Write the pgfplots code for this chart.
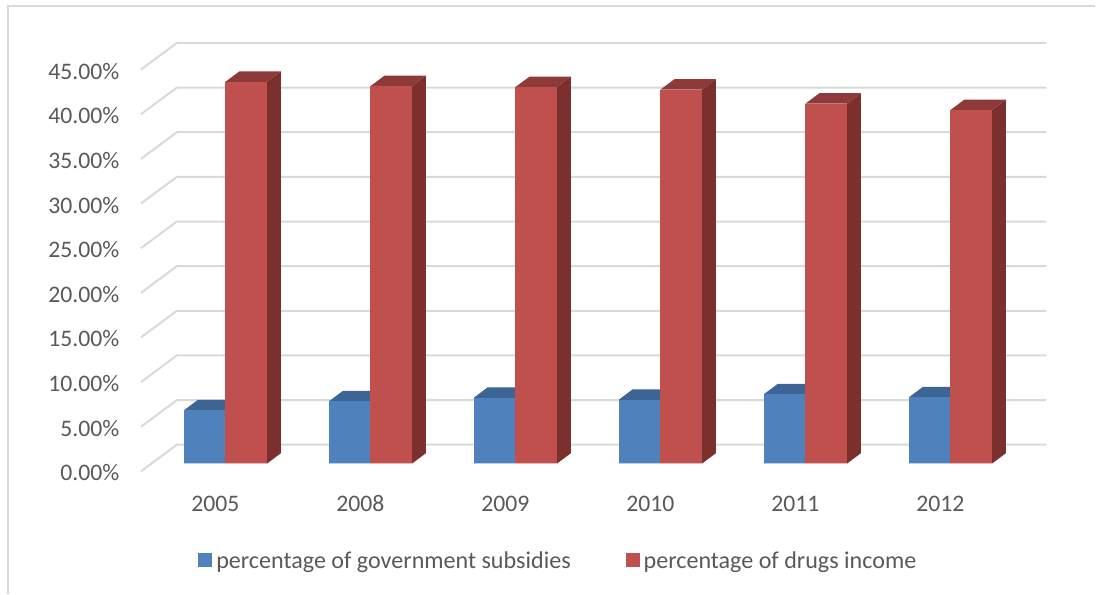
\documentclass[border=0pt]{standalone}
\usepackage{fontspec}
\setmainfont{Carlito}
\usepackage{pgfplots}
\pgfplotsset{compat=1.18}
\definecolor{gridc}{HTML}{D9D9D9}
\definecolor{txt}{HTML}{595959}
\definecolor{bluef}{HTML}{4F81BD}
\definecolor{bluet}{HTML}{3C6494}
\definecolor{bluel}{HTML}{B9CDE5}
\definecolor{redf}{HTML}{C0504D}
\definecolor{redt}{HTML}{8E3A38}
\definecolor{reds}{HTML}{7C302E}
\definecolor{redl}{HTML}{E6B9B8}

% Depth of the bars and of the floor, in axis units
\def\barbase{0.861}
\def\barw{0.2866}
\def\depx{0.0965}
\def\depy{1.175}

% #1 category, #2 value in percent, #3 side (-1 left, 0 right), #4 front, #5 top, #6 side, #7 base edge
\newcommand{\boxbar}[7]{%
  \pgfmathsetmacro{\xa}{#1+#3*\barw}%
  \pgfmathsetmacro{\xb}{\xa+\barw}%
  \pgfmathsetmacro{\xc}{\xa+\depx}%
  \pgfmathsetmacro{\xd}{\xb+\depx}%
  \pgfmathsetmacro{\ya}{\barbase}%
  \pgfmathsetmacro{\yb}{\barbase+#2}%
  \pgfmathsetmacro{\yc}{\yb+\depy}%
  \pgfmathsetmacro{\ye}{\ya+\depy}%
  \addplot[forget plot,fill=#6,draw=none] coordinates {(\xb,\ya) (\xd,\ye) (\xd,\yc) (\xb,\yb)} --cycle;
  \addplot[forget plot,fill=#5,draw=none] coordinates {(\xa,\yb) (\xb,\yb) (\xd,\yc) (\xc,\yc)} --cycle;
  \addplot[forget plot,fill=#4,draw=none] coordinates {(\xa,\ya) (\xb,\ya) (\xb,\yb) (\xa,\yb)} --cycle;
  \addplot[forget plot,draw=#7,line width=0.8pt] coordinates {(\xa,\ya) (\xb,\ya)};
}

\begin{document}
\begin{tikzpicture}[x=1pt,y=1pt]
\path (0,0) rectangle (1096,594);
\draw[gridc,line width=1.5pt] (1096,588) -- (8,588) -- (8,0);
\begin{axis}[
  at={(141pt,122.3pt)},anchor=south west,
  scale only axis,width=906pt,height=428.7pt,
  xmin=-0.582,xmax=5.662,ymin=0,ymax=47.987,
  clip=false,
  axis line style={draw=none},
  tick style={draw=none},
  xtick={0,1,2,3,4,5},
  xticklabels={2005,2008,2009,2010,2011,2012},
  xticklabel style={xshift=-10pt,yshift=-21pt,text height=16pt,text depth=0pt},
  ytick={0,5,10,15,20,25,30,35,40,45},
  yticklabel={\pgfmathprintnumber[fixed,fixed zerofill,precision=2,assume math mode=true]{\tick}\%},
  yticklabel style={xshift=-18pt,yshift=-1.5pt},
  tick label style={font=\fontsize{23.7}{28}\selectfont,text=txt},
  legend style={at={(0.461,-0.208)},anchor=center,draw=none,fill=none,
    font=\fontsize{24.1}{28}\selectfont,text=txt,legend columns=2,
    /tikz/every odd column/.append style={column sep=2pt},
    /tikz/every even column/.append style={column sep=53pt}},
  legend image code/.code={\fill[draw=none,#1] (0pt,-7pt) rectangle (14pt,7pt);},
]
% Floor diagonals and back wall rules
\pgfplotsinvokeforeach{0,5,10,15,20,25,30,35,40,45}{
  \pgfmathsetmacro{\yy}{#1+2.987}
  \addplot[forget plot,draw=gridc,line width=2pt] coordinates {(-0.582,#1) (-0.334,\yy) (5.662,\yy)};
}
% Percentage of government subsidies
\boxbar{0}{5.96}{-1}{bluef}{bluet}{bluet}{bluel}
\boxbar{1}{6.97}{-1}{bluef}{bluet}{bluet}{bluel}
\boxbar{2}{7.38}{-1}{bluef}{bluet}{bluet}{bluel}
\boxbar{3}{7.16}{-1}{bluef}{bluet}{bluet}{bluel}
\boxbar{4}{7.77}{-1}{bluef}{bluet}{bluet}{bluel}
\boxbar{5}{7.42}{-1}{bluef}{bluet}{bluet}{bluel}
% Percentage of drugs income
\boxbar{0}{42.76}{0}{redf}{redt}{reds}{redl}
\boxbar{1}{42.28}{0}{redf}{redt}{reds}{redl}
\boxbar{2}{42.17}{0}{redf}{redt}{reds}{redl}
\boxbar{3}{41.89}{0}{redf}{redt}{reds}{redl}
\boxbar{4}{40.32}{0}{redf}{redt}{reds}{redl}
\boxbar{5}{39.60}{0}{redf}{redt}{reds}{redl}
\addlegendimage{fill=bluef,draw=none}
\addlegendentry{percentage of government subsidies}
\addlegendimage{fill=redf,draw=none}
\addlegendentry{percentage of drugs income}
\end{axis}
\end{tikzpicture}
\end{document}
